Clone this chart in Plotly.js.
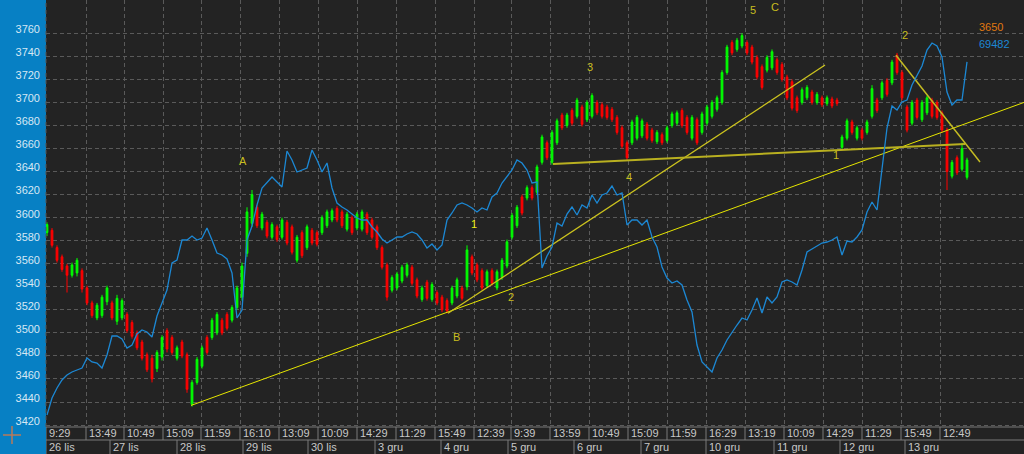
<!DOCTYPE html>
<html><head><meta charset="utf-8">
<script src="https://cdn.plot.ly/plotly-3.0.1.min.js"></script>
<style>html,body{margin:0;padding:0;background:#232323;overflow:hidden}#chart{width:1024px;height:454px}</style>
</head><body><div id="chart"></div>
<script>
// ---- price bars (OHLC) ----
const openP = [
3587,3589,3574,3566,3558,3550,3552,3554,3539,3526,
3513,3515,3527,3526,3510,3513,3516,3509,3500,3492,
3481,3478,3469,3479,3502,3496,3478,3492,3481,3438,
3457,3471,3496,3496,3500,3511,3516,3511,3522,3531,
3569,3595,3609,3591,3596,3583,3592,3583,3596,3592,
3563,3587,3574,3589,3587,3587,3593,3598,3608,3605,
3590,3600,3591,3590,3603,3598,3592,3574,3559,3537,
3539,3545,3550,3557,3546,3529,3544,3529,3535,3531,
3528,3526,3532,3539,3540,3566,3559,3554,3541,3554,
3539,3548,3558,3583,3593,3618,3617,3626,3622,3648,
3665,3648,3665,3689,3680,3693,3688,3696,3685,3688,
3700,3698,3696,3694,3687,3678,3665,3665,3669,3671,
3681,3676,3666,3672,3667,3680,3682,3693,3687,3669,
3685,3674,3682,3688,3694,3700,3726,3752,3746,3749,
3752,3748,3739,3731,3728,3730,3737,3733,3722,3718,
3704,3700,3704,3709,3700,3704,3699,3703,3702,3661,
3669,3683,3669,3676,3674,3688,3702,3704,3719,3717,
3741,3726,3696,3682,3702,3685,3691,3702,3700,3691,
3676,3636,3652,3642,3635];
const highP = [
3596,3591,3576,3568,3560,3561,3565,3556,3541,3528,
3526,3533,3541,3528,3533,3530,3518,3511,3502,3494,
3483,3481,3485,3498,3504,3498,3489,3494,3483,3459,
3479,3489,3498,3513,3518,3513,3518,3524,3541,3561,
3609,3624,3611,3605,3598,3596,3594,3600,3598,3594,
3585,3589,3594,3591,3589,3602,3607,3608,3610,3607,
3605,3602,3605,3607,3605,3600,3594,3576,3561,3550,
3553,3559,3561,3559,3548,3541,3546,3544,3537,3533,
3530,3541,3548,3541,3576,3568,3561,3556,3555,3556,
3555,3565,3581,3604,3611,3620,3628,3628,3646,3672,
3667,3676,3686,3691,3691,3695,3704,3698,3702,3708,
3702,3700,3698,3696,3689,3680,3667,3685,3689,3686,
3683,3678,3676,3674,3680,3692,3693,3695,3689,3689,
3687,3692,3698,3702,3706,3728,3750,3754,3756,3760,
3754,3750,3741,3733,3741,3746,3739,3735,3724,3720,
3706,3713,3715,3711,3709,3706,3706,3705,3704,3672,
3686,3685,3680,3678,3685,3715,3704,3719,3721,3737,
3743,3728,3698,3702,3704,3702,3706,3704,3702,3693,
3678,3650,3654,3665,3652];
const lowP = [
3584,3574,3561,3553,3535,3548,3549,3535,3524,3513,
3511,3513,3524,3511,3507,3511,3500,3495,3485,3476,
3466,3457,3466,3476,3483,3481,3476,3478,3448,3436,
3455,3469,3481,3494,3498,3498,3502,3509,3520,3528,
3566,3592,3591,3589,3582,3581,3579,3581,3576,3568,
3561,3565,3572,3576,3575,3585,3591,3596,3596,3591,
3588,3585,3589,3588,3585,3581,3572,3555,3528,3535,
3537,3543,3548,3541,3530,3527,3528,3527,3524,3518,
3517,3524,3530,3528,3537,3550,3544,3537,3539,3541,
3537,3546,3556,3581,3591,3602,3615,3615,3620,3646,
3650,3646,3663,3676,3678,3680,3686,3679,3683,3686,
3689,3686,3685,3683,3672,3660,3650,3663,3667,3669,
3667,3665,3664,3663,3665,3678,3680,3678,3672,3667,
3663,3672,3680,3686,3692,3698,3724,3741,3744,3747,
3741,3733,3720,3711,3726,3728,3724,3718,3702,3693,
3691,3698,3702,3698,3698,3696,3697,3695,3697,3659,
3667,3672,3667,3667,3672,3686,3691,3702,3705,3715,
3724,3702,3674,3680,3685,3683,3689,3686,3685,3674,
3624,3634,3637,3640,3633];
const closeP = [
3594,3576,3563,3555,3550,3559,3563,3538,3526,3515,
3524,3531,3539,3513,3530,3528,3502,3497,3487,3478,
3468,3460,3483,3496,3486,3483,3487,3480,3451,3457,
3477,3487,3483,3511,3516,3500,3504,3522,3539,3558,
3605,3620,3593,3603,3584,3594,3581,3598,3578,3570,
3583,3567,3592,3578,3577,3600,3605,3606,3598,3593,
3603,3587,3603,3605,3587,3583,3574,3557,3531,3548,
3551,3557,3559,3543,3532,3539,3530,3542,3526,3520,
3519,3539,3546,3530,3572,3552,3546,3539,3553,3543,
3553,3563,3579,3602,3609,3604,3626,3617,3644,3670,
3652,3674,3684,3678,3689,3682,3702,3681,3700,3706,
3691,3688,3687,3685,3674,3662,3652,3683,3687,3684,
3669,3667,3674,3665,3678,3690,3691,3680,3674,3687,
3665,3690,3696,3700,3704,3726,3748,3743,3754,3758,
3743,3735,3722,3713,3739,3744,3726,3720,3704,3695,
3693,3711,3713,3700,3707,3698,3704,3697,3699,3670,
3684,3674,3678,3669,3683,3712,3693,3717,3707,3735,
3726,3704,3676,3700,3687,3700,3704,3688,3687,3676,
3640,3648,3639,3660,3650];
// ---- second series (blue line) ----
const blueVals = [
65950,66120,66220,66300,66350,66380,66400,66420,66520,66480,
66470,66420,66550,66740,66740,66710,66620,66650,66760,66800,
66780,66730,66940,67070,67200,67470,67500,67700,67700,67740,
67700,67720,67820,67700,67570,67550,67510,67370,66920,67000,
67700,67840,68050,68220,68280,68330,68280,68230,68590,68500,
68380,68400,68420,68600,68500,68380,68470,68220,68070,68030,
68000,67960,67920,67900,67900,67830,67780,67710,67670,67700,
67730,67730,67760,67780,67760,67700,67620,67660,67600,67650,
67900,67970,68050,68070,68050,68020,67980,68020,68000,68130,
68170,68270,68330,68400,68500,68470,68400,68270,68280,67420,
67540,67630,67870,67840,67960,68030,67950,68050,68020,68150,
68070,68150,68170,68240,68150,68170,67850,67900,67900,67850,
67900,67730,67630,67430,67320,67270,67290,67250,67100,66980,
66650,66480,66430,66380,66520,66600,66700,66780,66850,66920,
66900,67000,67120,66970,67130,67070,67130,67280,67300,67280,
67250,67400,67580,67610,67640,67670,67680,67700,67730,67550,
67690,67680,67730,67800,67980,68080,68000,68400,68820,69040,
69000,69080,69100,69250,69340,69440,69600,69670,69640,69530,
69180,69050,69100,69100,69482];
// ---- axes ----
const priceTicks = [3420,3440,3460,3480,3500,3520,3540,3560,3580,3600,3620,3640,3660,3680,3700,3720,3740,3760];
const timeTickPos = [-0.2,7.8,15.4,23.2,30.8,38.6,46.4,54.2,62,69.8,77.6,85.4,92.8,100.6,108.4,116.2,124,131.8,139.6,147.4,155.2,163,170.8,178.6];
const timeLabels = ['9:29','13:49','10:49','15:09','11:59','16:10','13:09','10:09','14:29','11:29','15:49','12:39','9:39','13:59','10:49','15:09','11:59','16:29','13:19','10:09','14:29','11:29','15:49','12:49'];
const dateTickPos = [-0.2,12.6,26,39.2,52.2,65.6,78.8,92.2,105.4,118.8,131.8,145.4,158.6,171.6];
const dateLabels = ['26 lis','27 lis','28 lis','29 lis','30 lis','3 gru','4 gru','5 gru','6 gru','7 gru','10 gru','11 gru','12 gru','13 gru'];
// ---- trend lines (bar index, price) ----
const trend1X = [28.8, 195.4], trend1Y = [3437, 3700];
const trend2X = [80.2, 155.6], trend2Y = [3517, 3732.5];
const trend3X = [101.2, 183.6], trend3Y = [3646.5, 3664];
const trend4X = [169.8, 186.6], trend4Y = [3741, 3648.3];
// ---- wave labels ----
const waveText = ['A','3','5','C','2','1','B','2','4','1'];
const waveX = [39.2,108.6,141.2,145.6,171.6,85.4,81.8,92.8,116.4,157.8];
const waveY = [3649,3730.7,3780,3782.5,3758.5,3594.5,3496.4,3531,3635.3,3654.4];
const waveBright = [false,false,false,false,false,true,false,false,false,false];
const lastPrice = 3650, lastBlue = 69482;

const barIdx = openP.map((_, i) => i);
const PH = 427, PW = 978;
const traces = [
  {type:'scatter', mode:'lines', x:barIdx, y:blueVals, yaxis:'y2', line:{color:'#1c88d4', width:1.3}, hoverinfo:'skip'},
  {type:'candlestick', x:barIdx, open:openP, high:highP, low:lowP, close:closeP, whiskerwidth:0,
   increasing:{line:{color:'#00ff00', width:1}, fillcolor:'#00ff00'},
   decreasing:{line:{color:'#ff0000', width:1}, fillcolor:'#ff0000'}, hoverinfo:'skip'},
  {type:'scatter', mode:'lines', x:trend1X, y:trend1Y, line:{color:'#e6e600', width:1}, hoverinfo:'skip'},
  {type:'scatter', mode:'lines', x:trend2X, y:trend2Y, line:{color:'#cdc41e', width:1.3}, hoverinfo:'skip'},
  {type:'scatter', mode:'lines', x:trend3X, y:trend3Y, line:{color:'#b9b020', width:2}, hoverinfo:'skip'},
  {type:'scatter', mode:'lines', x:trend4X, y:trend4Y, line:{color:'#c4bb22', width:1.5}, hoverinfo:'skip'}
];
const anns = [];
waveText.forEach((t, k) => anns.push({x:waveX[k], y:waveY[k], xref:'x', yref:'y', text:t, showarrow:false,
  font:{family:'Liberation Sans, Arial', size:11, color: waveBright[k] ? '#eeee10' : '#c8be1e'}}));
timeLabels.forEach((t, k) => anns.push({x:timeTickPos[k], y:-6/PH, xref:'x', yref:'paper', text:t, showarrow:false,
  xanchor:'left', yanchor:'middle', xshift:1, font:{family:'Liberation Sans, Arial', size:11, color:'#c8c8c8'}}));
dateLabels.forEach((t, k) => anns.push({x:dateTickPos[k], y:-20/PH, xref:'x', yref:'paper', text:t, showarrow:false,
  xanchor:'left', yanchor:'middle', xshift:1, font:{family:'Liberation Sans, Arial', size:11, color:'#c8c8c8'}}));
anns.push({x:(977-46)/PW, y:1-27/PH, xref:'paper', yref:'paper', xanchor:'left', yanchor:'middle', showarrow:false,
  text:String(lastPrice), font:{family:'Liberation Sans, Arial', size:11, color:'#e07810'}});
anns.push({x:(977-46)/PW, y:1-44/PH, xref:'paper', yref:'paper', xanchor:'left', yanchor:'middle', showarrow:false,
  text:String(lastBlue), font:{family:'Liberation Sans, Arial', size:11, color:'#1c88d4'}});

const shapes = [];
shapes.push({type:'rect', xref:'paper', yref:'paper', x0:0, x1:1, y0:-27/PH, y1:0, fillcolor:'#232323', line:{width:0}, layer:'below'});
shapes.push({type:'line', xref:'paper', yref:'paper', x0:0, x1:1, y0:0, y1:0, line:{color:'#7a7a7a', width:1}});
shapes.push({type:'line', xref:'paper', yref:'paper', x0:0, x1:1, y0:-13/PH, y1:-13/PH, line:{color:'#7a7a7a', width:1}});
timeTickPos.forEach(p => shapes.push({type:'line', xref:'x', yref:'paper', x0:p, x1:p, y0:-13/PH, y1:0, line:{color:'#7a7a7a', width:1}}));
dateTickPos.forEach(p => shapes.push({type:'line', xref:'x', yref:'paper', x0:p, x1:p, y0:-27/PH, y1:-13/PH, line:{color:'#7a7a7a', width:1}}));
shapes.push({type:'line', xref:'paper', yref:'paper', x0:0, x1:0, y0:0, y1:1, line:{color:'#555', width:1, dash:'4px,3px'}});
shapes.push({type:'line', xref:'paper', yref:'paper', x0:(3-46)/PW, x1:(21-46)/PW, y0:(427-435)/PH, y1:(427-435)/PH, line:{color:'#b97a5a', width:1.5}});
shapes.push({type:'line', xref:'paper', yref:'paper', x0:(12-46)/PW, x1:(12-46)/PW, y0:(427-426)/PH, y1:(427-444)/PH, line:{color:'#b97a5a', width:1.5}});

const layout = {
  width:1024, height:454, margin:{l:46, r:0, t:0, b:27},
  paper_bgcolor:'#0780c4', plot_bgcolor:'#232323',
  showlegend:false, font:{family:'Liberation Sans, Arial', size:11},
  xaxis:{range:[-0.2, 195.4], tickvals:timeTickPos, showticklabels:false, ticks:'', showgrid:true,
    gridcolor:'#5a5a5a', griddash:'4px,3px', gridwidth:1, zeroline:false, rangeslider:{visible:false}, fixedrange:true},
  yaxis:{range:[3418.3, 3788.9], tickvals:priceTicks, ticks:'', ticklabelstandoff:5, ticklabelshift:-4,
    tickfont:{family:'Liberation Sans, Arial', size:11, color:'#d6e8f4'}, showgrid:true,
    gridcolor:'#5a5a5a', griddash:'4px,3px', gridwidth:1, zeroline:false, fixedrange:true},
  yaxis2:{range:[65830, 70100], overlaying:'y', side:'right', visible:false, showgrid:false, fixedrange:true},
  boxgap:0.5,
  annotations:anns, shapes:shapes
};
Plotly.newPlot('chart', traces, layout, {displayModeBar:false, staticPlot:true});
</script></body></html>
